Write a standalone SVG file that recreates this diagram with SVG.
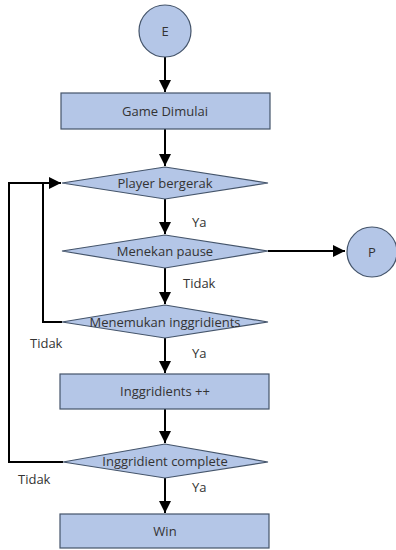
<svg xmlns="http://www.w3.org/2000/svg" width="396" height="550" viewBox="0 0 396 550">
<defs>
<marker id="ah" viewBox="0 0 10 10" refX="10" refY="5" markerWidth="6" markerHeight="6" markerUnits="strokeWidth" orient="auto">
<path d="M0,0 L10,5 L0,10 Z" fill="#000"/>
</marker>
</defs>
<style>
.shape{fill:#b4c6e7;stroke:#44546a;stroke-width:1.2}
.lbl{font-family:"Open Sans","Liberation Sans",sans-serif;font-size:13px;fill:#333;text-anchor:middle;dominant-baseline:central}
.note{font-family:"Open Sans","Liberation Sans",sans-serif;font-size:13px;fill:#333;dominant-baseline:central}
.conn{fill:none;stroke:#000;stroke-width:2}
</style>
<rect width="396" height="550" fill="#fff"/>
<g id="connectors">
<path class="conn" d="M165,57 V92" marker-end="url(#ah)"/>
<path class="conn" d="M165,129 V166" marker-end="url(#ah)"/>
<path class="conn" d="M165,199 V234" marker-end="url(#ah)"/>
<path class="conn" d="M268,251 H345" marker-end="url(#ah)"/>
<path class="conn" d="M165,268 V304" marker-end="url(#ah)"/>
<path class="conn" d="M165,338 V373" marker-end="url(#ah)"/>
<path class="conn" d="M165,409 V443" marker-end="url(#ah)"/>
<path class="conn" d="M165,478 V513" marker-end="url(#ah)"/>
<path class="conn" d="M62,322 H43 V183"/>
<path class="conn" d="M63,462 H9 V183 H61" marker-end="url(#ah)"/>
<text class="note" x="192" y="222">Ya</text>
<text class="note" x="183" y="283">Tidak</text>
<text class="note" x="30" y="343">Tidak</text>
<text class="note" x="192" y="353">Ya</text>
<text class="note" x="18" y="479">Tidak</text>
<text class="note" x="192" y="487">Ya</text>
</g>
<g id="nodeE">
<circle class="shape" cx="165" cy="31" r="26"/>
<text class="lbl" x="165" y="31">E</text>
</g>
<g id="nodeGame">
<rect class="shape" x="61" y="93" width="209" height="36"/>
<text class="lbl" x="165" y="111">Game Dimulai</text>
</g>
<g id="nodePlayer">
<polygon class="shape" points="62,183 165,167 268,183 165,199"/>
<text class="lbl" x="165" y="183">Player bergerak</text>
</g>
<g id="nodePause">
<polygon class="shape" points="62,251 165,235 268,251 165,268"/>
<text class="lbl" x="165" y="251">Menekan pause</text>
</g>
<g id="nodeP">
<circle class="shape" cx="372" cy="252" r="25"/>
<text class="lbl" x="372" y="252">P</text>
</g>
<g id="nodeMenemukan">
<polygon class="shape" points="62,322 165,305 268,322 165,338"/>
<text class="lbl" x="165" y="322">Menemukan inggridients</text>
</g>
<g id="nodeInc">
<rect class="shape" x="60" y="374" width="209" height="35"/>
<text class="lbl" x="165" y="391">Inggridients ++</text>
</g>
<g id="nodeComplete">
<polygon class="shape" points="63,462 165,444 268,462 165,478"/>
<text class="lbl" x="165" y="461">Inggridient complete</text>
</g>
<g id="nodeWin">
<rect class="shape" x="60" y="514" width="209" height="34"/>
<text class="lbl" x="165" y="531">Win</text>
</g>
</svg>
